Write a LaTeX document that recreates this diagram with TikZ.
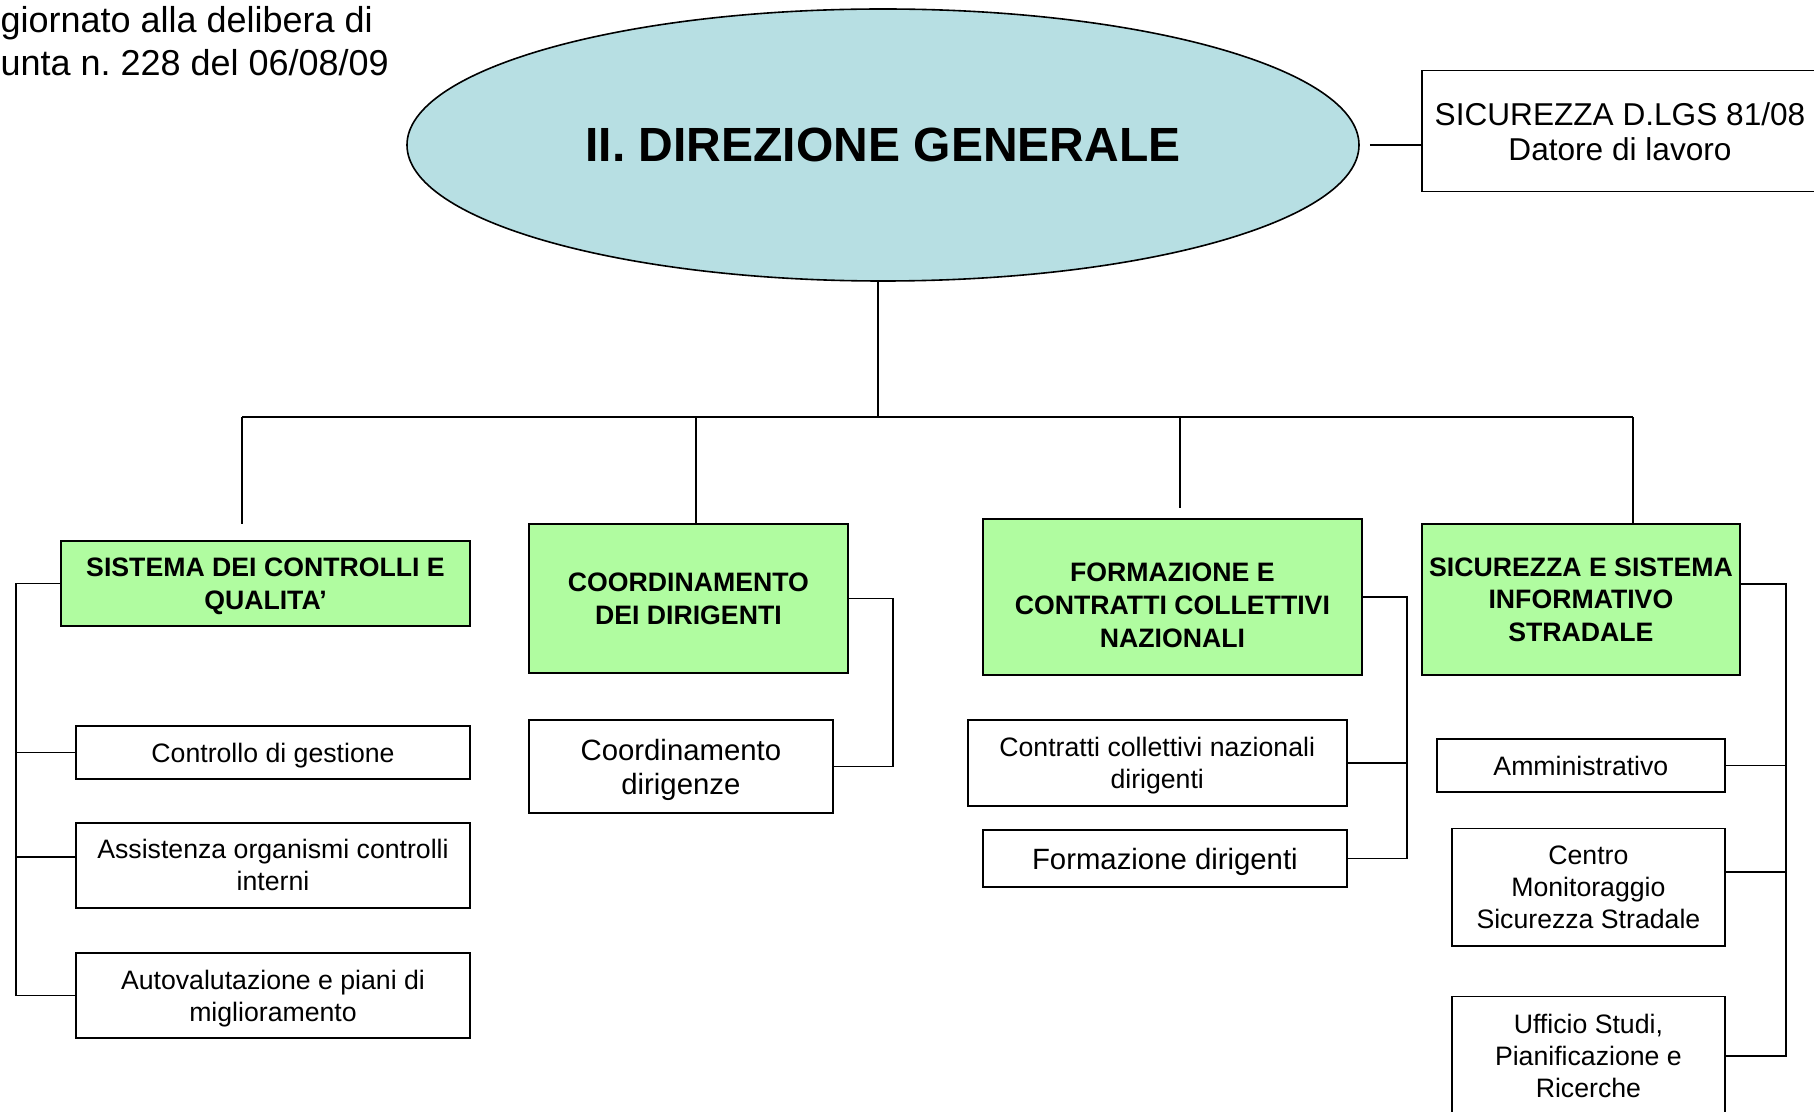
\documentclass[tikz,border=0pt]{standalone}
\usepackage{fontspec}
\setmainfont{Liberation Sans}
\frenchspacing
\usetikzlibrary{shapes.geometric}
\tikzset{every picture/.style={line width=0.75pt}}

\begin{document}
\begin{tikzpicture}[x=0.75pt,y=0.75pt,yscale=-1,xscale=1,
    unitbox/.style={draw, line width=1.2pt, inner sep=0pt, text depth=0pt, align=center, font=\fontsize{20}{24}\selectfont},
    headbox/.style={unitbox, fill={rgb, 255:red, 176; green, 252; blue, 160 }, font=\bfseries\fontsize{20}{24.5}\selectfont},
    link/.style={line width=1.2pt}]
        \useasboundingbox (0,0) rectangle (1814,1112);
        \clip (0,0) rectangle (1814,1112);

        % Text Node
        \node [anchor=north west, inner sep=0pt, align=left, font=\fontsize{27}{32.3}\selectfont] (note) at (0,6) {giornato alla delibera di\\unta n. 228 del 06/08/09};

        %Shape: Ellipse
        \node [ellipse, draw, line width=1.2pt, fill={rgb, 255:red, 183; green, 223; blue, 227 }, inner sep=0pt, minimum width=714pt, minimum height=204pt, font=\bfseries\fontsize{36}{40}\selectfont] (dg) at (883,145) {II. DIREZIONE GENERALE};
        %Shape: Rectangle
        \node [unitbox, minimum width=297pt, minimum height=90.75pt, font=\fontsize{23.7}{26.3}\selectfont] (dlgs) at (1620,131.2) {SICUREZZA D.LGS 81/08\\Datore di lavoro};

        %Shape: Rectangle
        \node [headbox, minimum width=306.75pt, minimum height=63.75pt] (sc) at (265.5,583.5) {SISTEMA DEI CONTROLLI E\\QUALITA’};
        \node [unitbox, minimum width=295.5pt, minimum height=39.75pt] (sc1) at (273,752.5) {Controllo di gestione};
        \node [unitbox, minimum width=295.5pt, minimum height=63.75pt] (sc2) at (273,865.2) {Assistenza organismi controlli\\interni};
        \node [unitbox, minimum width=295.5pt, minimum height=63.75pt] (sc3) at (273,995.5) {Autovalutazione e piani di\\miglioramento};

        %Shape: Rectangle
        \node [headbox, minimum width=239pt, minimum height=111.75pt] (cd) at (688.4,598.5) {COORDINAMENTO\\DEI DIRIGENTI};
        \node [unitbox, minimum width=227.8pt, minimum height=69.5pt, font=\fontsize{22}{25.5}\selectfont] (cd1) at (680.9,766.4) {Coordinamento\\dirigenze};

        %Shape: Rectangle
        \node [headbox, minimum width=284.5pt, minimum height=117pt] (fc) at (1172.4,597) {\rule{0pt}{26.2pt}FORMAZIONE E\\CONTRATTI COLLETTIVI\\NAZIONALI};
        \node [unitbox, minimum width=284.25pt, minimum height=64.3pt] (fc1) at (1157.2,762.9) {Contratti collettivi nazionali\\dirigenti};
        \node [unitbox, minimum width=272.8pt, minimum height=42.5pt, font=\fontsize{22}{25.5}\selectfont] (fc2) at (1164.9,858.4) {Formazione dirigenti};

        %Shape: Rectangle
        \node [headbox, minimum width=238.7pt, minimum height=113pt] (ss) at (1580.9,599.5) {SICUREZZA E SISTEMA\\INFORMATIVO\\STRADALE};
        \node [unitbox, minimum width=216.2pt, minimum height=39.8pt] (ss1) at (1580.9,765.5) {Amministrativo};
        \node [unitbox, minimum width=205pt, minimum height=87.8pt] (ss2) at (1588.4,887.2) {Centro\\Monitoraggio\\Sicurezza Stradale};
        \node [unitbox, minimum width=205pt, minimum height=89pt] (ss3) at (1588.4,1056) {Ufficio Studi,\\Pianificazione e\\Ricerche};

        %Straight Lines
        \coordinate (trunk) at (878,417.3);
        \coordinate (d1) at (242,417.3);
        \coordinate (d2) at (696,417.3);
        \coordinate (d3) at (1180,417.3);
        \coordinate (d4) at (1633,417.3);
        \draw [link] (dg.south -| trunk) -- (trunk);
        \draw [link] (d1) -- (d4);
        \draw [link, shorten >=12.5pt] (d1) -- (d1 |- sc.north);
        \draw [link] (d2) -- (d2 |- cd.north);
        \draw [link, shorten >=8pt] (d3) -- (d3 |- fc.north);
        \draw [link] (d4) -- (d4 |- ss.north);
        \draw [link, shorten <=7.5pt] (dg.east) -- (dg.east -| dlgs.west);

        %Straight Lines
        \coordinate (lb) at (15.7,585);
        \coordinate (sc2y) at (0,856.7);
        \draw [link] (sc.west) -- (sc.west -| lb) |- (sc3.west);
        \draw [link] (sc1.west) -- (sc1.west -| lb);
        \draw [link] (sc2.west |- sc2y) -- (lb |- sc2y);

        %Straight Lines
        \coordinate (rb1) at (892.7,0);
        \draw [link] (cd.east) -- (cd.east -| rb1) |- (cd1.east);

        %Straight Lines
        \coordinate (rb2) at (1406.7,0);
        \draw [link] (fc.east) -- (fc.east -| rb2) |- (fc2.east);
        \draw [link] (fc1.east) -- (fc1.east -| rb2);

        %Straight Lines
        \coordinate (rb3) at (1785.7,584);
        \coordinate (ss2y) at (0,872);
        \draw [link] (ss.east |- rb3) -- (rb3) |- (ss3.east);
        \draw [link] (ss1.east) -- (ss1.east -| rb3);
        \draw [link] (ss2.east |- ss2y) -- (rb3 |- ss2y);
\end{tikzpicture}
\end{document}
